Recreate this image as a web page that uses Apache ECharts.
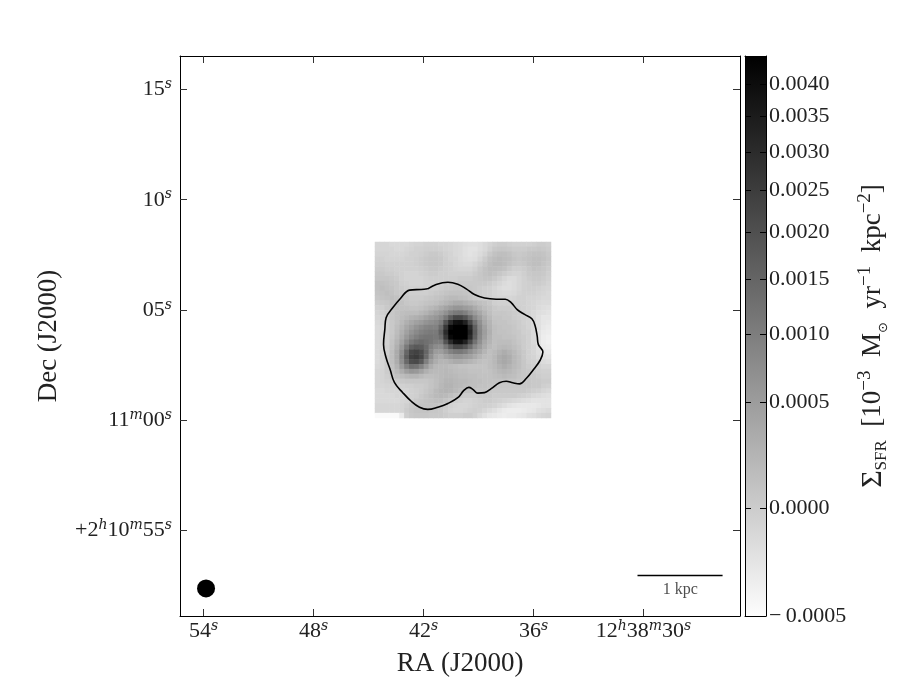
<!DOCTYPE html>
<html>
<head>
<meta charset="utf-8">
<style>
html, body { margin: 0; padding: 0; background: #fff; }
#chart { width: 900px; height: 700px; }
</style>
<script src="https://cdn.jsdelivr.net/npm/echarts@6/dist/echarts.min.js"></script>
</head>
<body>
<div id="chart"></div>
<script>
// axis ticks, RA and Dec in seconds
const raTicks = [54, 48, 42, 36, 30];
const raTickLabels = ['54{s|s}', '48{s|s}', '42{s|s}', '36{s|s}', '12{s|h}38{s|m}30{s|s}'];
const decTicks = [75, 70, 65, 60, 55];
const decTickLabels = ['15{s|s}', '10{s|s}', '05{s|s}', '11{s|m}00{s|s}', '+2{s|h}10{s|m}55{s|s}'];

// colorbar ticks: label and position along the bar (0 bottom, 1 top)
const cbarLabels = ['\u2212\u20090.0005', '0.0000', '0.0005', '0.0010', '0.0015', '0.0020', '0.0025', '0.0030', '0.0035', '0.0040'];
const cbarPositions = [0, 0.193, 0.382, 0.504, 0.602, 0.686, 0.761, 0.829, 0.893, 0.95];

// image levels, 0 = bottom of the colorbar, 100 = top
const imageLevels = [
  [16,16,16,15,15,15,15,16,17,17,18,18,18,17,17,16,15,14,13,12,12,13,15,17,19,20,20,19,18,18,18,18,19,20,20,19],
  [16,16,16,16,15,15,16,17,18,18,19,19,19,18,17,16,15,14,12,11,11,13,15,18,21,22,22,21,20,20,20,21,21,22,21,20],
  [17,17,17,16,16,16,17,18,18,19,20,21,21,20,18,17,15,14,12,11,12,14,17,21,24,25,25,24,22,21,22,23,24,24,23,21],
  [18,18,17,17,17,17,18,18,19,20,21,22,22,21,19,17,16,14,13,12,13,16,20,24,26,27,26,25,23,22,23,24,25,25,24,22],
  [19,19,18,18,18,18,18,18,19,20,21,22,22,21,19,18,16,15,14,14,16,19,22,25,27,27,26,24,22,21,22,24,25,25,23,21],
  [20,20,19,19,18,18,18,18,18,19,20,21,21,20,19,18,17,16,16,16,18,21,24,26,26,25,24,21,19,19,20,22,24,23,22,20],
  [21,21,20,20,19,18,17,17,17,18,19,20,20,19,19,18,18,18,18,18,20,22,24,25,24,22,20,18,17,17,19,21,22,22,21,19],
  [22,22,22,21,20,18,17,17,17,17,18,19,19,19,19,19,19,20,20,20,21,22,23,23,21,19,16,14,14,16,18,20,21,21,20,18],
  [24,24,23,22,21,19,18,17,17,17,18,18,19,19,20,20,20,21,21,21,21,21,21,20,18,16,14,13,14,16,18,19,20,20,19,17],
  [24,25,24,23,21,20,19,18,18,18,18,19,19,20,21,21,22,22,22,22,21,20,19,18,16,14,13,13,14,16,18,19,19,18,17,16],
  [23,24,25,24,22,21,20,19,19,19,19,20,21,22,23,24,24,24,23,22,21,20,19,18,16,15,14,14,15,17,18,18,18,17,16,15],
  [22,23,24,25,24,22,21,20,20,20,21,22,23,24,26,27,27,26,25,23,21,20,19,19,17,16,16,16,17,18,18,17,17,16,15,15],
  [20,21,22,24,25,24,22,21,21,22,23,24,25,27,29,31,33,33,31,29,27,25,24,22,19,18,18,18,18,18,18,17,16,15,14,14],
  [18,19,21,23,24,24,24,23,23,24,26,28,30,33,36,39,41,41,39,37,33,29,26,24,21,20,20,20,19,19,18,17,16,14,13,12],
  [17,18,20,22,24,25,26,26,26,28,30,33,36,39,43,49,52,53,50,44,39,34,29,25,22,22,22,21,20,19,18,17,15,13,12,11],
  [16,17,19,22,24,26,28,30,31,33,36,39,41,45,53,64,72,72,67,57,46,39,32,27,23,23,22,22,20,19,18,17,15,12,10,10],
  [15,16,18,21,24,27,31,34,37,39,42,44,46,51,67,83,93,94,87,71,55,43,34,29,24,23,23,22,21,20,18,17,15,12,10,9],
  [14,15,18,21,25,29,34,38,42,45,48,49,49,58,78,97,100,100,100,83,62,46,37,30,25,24,23,23,22,20,19,17,15,12,9,8],
  [14,15,18,21,26,31,37,42,46,49,51,52,52,62,83,100,100,100,100,87,64,47,38,31,25,24,24,23,22,21,19,18,15,11,8,7],
  [14,15,18,22,27,33,40,46,50,53,54,54,53,58,78,97,100,100,100,83,62,46,37,30,25,25,24,24,23,21,20,18,15,11,7,6],
  [14,15,18,23,29,36,45,52,56,58,56,54,51,51,67,83,93,94,87,71,55,43,34,29,25,26,26,26,24,22,20,18,15,11,7,6],
  [14,15,19,24,31,40,52,62,65,64,58,50,45,44,53,64,72,72,67,57,46,39,32,27,25,27,28,27,25,23,20,18,16,12,8,7],
  [14,16,19,25,33,44,60,72,74,71,60,47,39,38,43,49,52,53,50,44,39,34,29,25,27,30,32,30,27,24,21,18,16,13,10,9],
  [14,16,20,25,33,46,63,75,77,72,58,43,35,32,36,39,41,41,39,37,33,29,26,25,28,32,34,32,28,25,21,18,17,14,12,11],
  [14,16,20,25,32,44,59,70,71,65,50,38,32,29,29,31,33,33,31,29,27,25,24,25,28,32,34,32,28,25,22,19,18,16,14,13],
  [15,16,20,24,30,39,49,56,55,49,40,32,28,27,27,26,25,24,24,23,23,23,23,25,27,30,32,30,27,25,22,20,19,18,16,16],
  [16,17,20,23,27,32,38,41,40,36,31,28,27,27,28,27,26,25,25,24,24,24,23,24,26,28,29,28,26,24,22,21,20,19,18,18],
  [16,17,19,21,24,26,28,29,29,27,25,25,26,27,28,28,27,26,26,25,25,24,24,24,25,26,27,26,25,23,22,21,21,20,19,19],
  [16,17,18,19,20,21,22,22,22,22,22,23,25,27,29,29,28,27,27,26,25,25,24,24,24,24,24,23,23,22,22,22,21,21,20,20],
  [16,16,17,17,18,18,19,19,20,20,21,23,25,28,30,30,28,27,26,25,25,24,24,23,23,22,22,22,22,22,22,22,21,21,19,18],
  [15,15,16,16,16,17,17,18,19,20,22,24,27,29,30,29,27,25,24,24,23,23,23,22,21,21,21,21,21,21,21,20,19,18,16,15],
  [15,15,15,15,16,16,17,18,19,21,23,25,27,28,27,25,23,21,20,20,20,21,21,21,20,20,20,20,20,19,18,17,15,14,13,12],
  [15,15,15,15,15,16,17,19,21,22,23,24,25,25,23,21,19,18,17,17,18,19,20,20,19,18,17,16,15,14,13,12,11,11,11,11],
  [16,16,16,16,16,17,19,21,22,23,23,23,23,22,20,18,17,16,16,17,18,19,19,18,17,15,13,11,10,9,9,9,9,10,11,11],
  [16,16,16,16,16,17,20,22,23,23,23,22,22,21,19,17,16,16,17,18,19,18,16,14,12,10,8,7,7,7,8,9,10,12,13,14],
  [2,2,2,2,2,8,19,21,22,22,22,21,21,21,20,19,19,19,20,20,18,15,12,10,9,8,7,8,8,9,10,12,13,15,16,17]
];

// contour, [RA s, Dec s]
const contour = [
  [41.77,65.96],[41.31,66.16],[40.67,66.26],[40.13,66.17],[39.67,65.96],[39.22,65.70],[38.67,65.54],[38.04,65.49],
  [37.54,65.49],[37.22,65.33],[36.89,65.02],[36.49,64.80],[36.09,64.60],[35.91,64.27],[35.80,63.81],[35.74,63.44],
  [35.49,63.09],[35.64,62.72],[36.00,62.30],[36.40,61.89],[36.76,61.65],[37.13,61.70],[37.49,61.77],[37.86,61.70],
  [38.31,61.43],[38.67,61.25],[39.04,61.23],[39.31,61.40],[39.53,61.49],[39.80,61.35],[40.13,61.02],[40.67,60.76],
  [41.22,60.59],[41.77,60.49],[42.22,60.59],[42.67,60.86],[43.13,61.25],[43.58,61.70],[43.82,62.30],[44.04,62.83],
  [44.18,63.44],[44.11,64.12],[44.04,64.65],[43.68,65.10],[43.27,65.51],[42.76,65.90],[42.13,65.93],[41.77,65.96]
];

const beam = [[53.86, 52.37]];
const scaleBar = [[30.33, 52.96], [25.69, 52.96]];
const scaleLabelAt = [[28.0, 52.3]];

const serif = '"Liberation Serif", serif';
const supStyle = { fontFamily: '"DejaVu Serif"', fontSize: 14, fontStyle: 'italic', verticalAlign: 'top', lineHeight: 24, color: '#222' };
const cells = [];
imageLevels.forEach((row, j) => row.forEach((v, i) => cells.push([i, j, v])));
const cellIdx = imageLevels.map((r, i) => i);

const frameAxis = {
  axisLine: { show: true, onZero: false, lineStyle: { color: '#000', width: 1 } },
  splitLine: { show: false },
  z: 5
};
const tickStyle = { inside: true, length: 7, lineStyle: { color: '#333', width: 1 } };
const cbarTickStyle = { inside: true, length: 6, lineStyle: { color: '#000', width: 1 } };

const chart = echarts.init(document.getElementById('chart'), null, { renderer: 'canvas' });
chart.setOption({
  animation: false,
  backgroundColor: '#fff',
  grid: [
    { left: 180, top: 56, width: 560, height: 560 },
    { left: 375, top: 242, width: 176, height: 176 },
    // the colorbar ramp is the grid's own background, under its axes
    {
      left: 745, top: 56, width: 21, height: 560, show: true, borderWidth: 0,
      backgroundColor: new echarts.graphic.LinearGradient(0, 0, 0, 1, [
        { offset: 0, color: '#000000' },
        { offset: 1, color: '#fdfdfd' }
      ])
    }
  ],
  visualMap: { show: false, seriesIndex: 0, dimension: 2, min: 0, max: 100, inRange: { color: ['#ffffff', '#000000'] } },
  xAxis: [
    // main frame, bottom and top
    Object.assign({}, frameAxis, {
      gridIndex: 0, type: 'value', inverse: true, min: 24.74, max: 55.28, position: 'bottom',
      axisTick: Object.assign({ customValues: raTicks }, tickStyle),
      axisLabel: {
        customValues: raTicks, margin: 3, fontFamily: serif, fontSize: 22, color: '#222',
        formatter: v => raTickLabels[raTicks.indexOf(v)],
        rich: { s: supStyle }
      },
      name: 'RA (J2000)', nameLocation: 'middle', nameGap: 34,
      nameTextStyle: { fontFamily: serif, fontSize: 27, color: '#222' }
    }),
    Object.assign({}, frameAxis, {
      gridIndex: 0, type: 'value', inverse: true, min: 24.74, max: 55.28, position: 'top',
      axisTick: Object.assign({ customValues: raTicks }, tickStyle),
      axisLabel: { show: false }
    }),
    // image cells
    { gridIndex: 1, type: 'category', data: cellIdx, show: false },
    // colorbar, bottom and top
    Object.assign({}, frameAxis, {
      gridIndex: 2, type: 'value', min: 0, max: 1, position: 'bottom',
      axisTick: { show: false }, axisLabel: { show: false }
    }),
    Object.assign({}, frameAxis, {
      gridIndex: 2, type: 'value', min: 0, max: 1, position: 'top',
      axisTick: { show: false }, axisLabel: { show: false }
    })
  ],
  yAxis: [
    Object.assign({}, frameAxis, {
      gridIndex: 0, type: 'value', min: 51.12, max: 76.52, position: 'left',
      axisTick: Object.assign({ customValues: decTicks }, tickStyle),
      axisLabel: {
        customValues: decTicks, margin: 8, fontFamily: serif, fontSize: 22, color: '#222',
        formatter: v => decTickLabels[decTicks.indexOf(v)],
        rich: { s: supStyle }
      },
      name: 'Dec (J2000)', nameLocation: 'middle', nameGap: 118,
      nameTextStyle: { fontFamily: serif, fontSize: 27, color: '#222' }
    }),
    Object.assign({}, frameAxis, {
      gridIndex: 0, type: 'value', min: 51.12, max: 76.52, position: 'right',
      axisTick: Object.assign({ customValues: decTicks }, tickStyle),
      axisLabel: { show: false }
    }),
    { gridIndex: 1, type: 'category', data: cellIdx, show: false, inverse: true },
    Object.assign({}, frameAxis, {
      gridIndex: 2, type: 'value', min: 0, max: 1, position: 'right',
      axisTick: Object.assign({ customValues: cbarPositions }, cbarTickStyle),
      axisLabel: {
        customValues: cbarPositions, margin: 3, fontFamily: serif, fontSize: 22, color: '#222',
        formatter: v => cbarLabels[cbarPositions.indexOf(v)]
      },
      name: '{sig|\u03a3}{sub|SFR}{n|  [10}{sup|\u22123}{n|  M}{dot|\u2299}{n|  yr}{sup|\u22121}{n|  kpc}{sup|\u22122}{n|]}',
      nameLocation: 'middle', nameGap: 90, nameRotate: 90,
      nameTextStyle: {
        color: '#222',
        rich: {
          n: { fontFamily: serif, fontSize: 27, lineHeight: 34, color: '#222' },
          sig: { fontFamily: serif, fontSize: 30, lineHeight: 34, color: '#222' },
          sub: { fontFamily: serif, fontSize: 17, lineHeight: 24, verticalAlign: 'bottom', color: '#222' },
          dot: { fontFamily: '"DejaVu Sans"', fontSize: 13, lineHeight: 20, verticalAlign: 'bottom', color: '#222' },
          sup: { fontFamily: serif, fontSize: 19, lineHeight: 26, verticalAlign: 'top', color: '#222' }
        }
      }
    }),
    Object.assign({}, frameAxis, {
      gridIndex: 2, type: 'value', min: 0, max: 1, position: 'left',
      axisTick: Object.assign({ customValues: cbarPositions }, cbarTickStyle),
      axisLabel: { show: false }
    })
  ],
  series: [
    {
      type: 'heatmap', xAxisIndex: 2, yAxisIndex: 2, data: cells, silent: true, progressive: 0
    },
    {
      type: 'line', xAxisIndex: 0, yAxisIndex: 0, data: contour, smooth: 0.4, symbol: 'none', silent: true, z: 4,
      lineStyle: { color: '#000', width: 1.6 }
    },
    {
      type: 'scatter', xAxisIndex: 0, yAxisIndex: 0, data: beam, symbol: 'circle', symbolSize: 18, silent: true,
      itemStyle: { color: '#000', opacity: 1 }
    },
    {
      type: 'line', xAxisIndex: 0, yAxisIndex: 0, data: scaleBar, symbol: 'none', silent: true,
      lineStyle: { color: '#000', width: 1.5 }
    },
    {
      type: 'scatter', xAxisIndex: 0, yAxisIndex: 0, data: scaleLabelAt, symbolSize: 0, silent: true,
      label: {
        show: true, position: 'inside', formatter: '1 kpc', fontFamily: serif, fontSize: 16, color: '#222'
      }
    }
  ]
});
</script>
</body>
</html>
